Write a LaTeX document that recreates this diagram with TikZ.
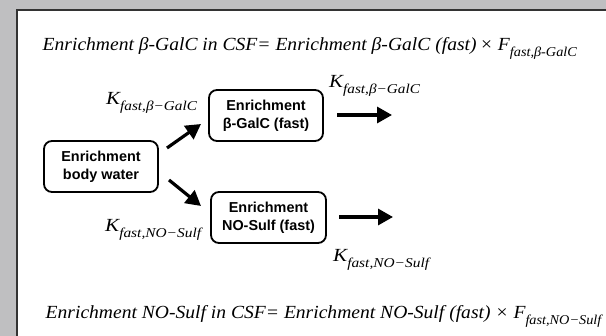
\documentclass[tikz,border=0pt]{standalone}
\usepackage{fontspec}
\setmainfont{Liberation Serif}
\newfontfamily\boxfont{Liberation Sans}
\usetikzlibrary{arrows.meta}
\definecolor{bggray}{RGB}{191,191,193}
\newcommand\sbs[1]{\raisebox{-0.3em}{\fontsize{13.5}{14}\selectfont #1}}
\newcommand\wide[2]{\scalebox{#1}[1]{#2}}
\begin{document}
\begin{tikzpicture}[x=1pt,y=-1pt,
 box/.style={draw, line width=1.8pt, rounded corners=8pt, minimum width=114pt, minimum height=51pt, align=center, font=\boxfont\bfseries\fontsize{14.4}{18}\selectfont, inner sep=0pt},
 flow/.style={line width=3.2pt, -{Triangle[length=15pt,width=16pt]}},
 lab/.style={font=\itshape\fontsize{18.5}{20}\selectfont, inner sep=0pt, anchor=base west},
 eqn/.style={font=\itshape\fontsize{18.5}{20}\selectfont, inner sep=0pt, anchor=base west}]
\useasboundingbox (0,0) rectangle (606,336);
\fill[bggray] (0,0) rectangle (606,336);
\fill[white] (17,10) rectangle (606,336);
\draw[line width=1.5pt, black!80] (17,336) -- (17,10) -- (606,10);

\node[box] (b1) at (101,166.5) {Enrichment\\body water};
\node[box] (b2) at (266,115.5) {Enrichment\\β-GalC (fast)};
\node[box, minimum width=115pt] (b3) at (268.5,217.5) {Enrichment\\NO-Sulf (fast)};

\coordinate (u0) at (167,148); \coordinate (u1) at (201,124);
\coordinate (d0) at (169,180); \coordinate (d1) at (201,206);
\coordinate (r1) at (392,115); \coordinate (r2) at (393,217);
\coordinate (r1s) at (337,115); \coordinate (r2s) at (339,217);
\draw[flow] (u0) -- (u1);
\draw[flow] (d0) -- (d1);
\draw[flow] (r1s) -- (r1);
\draw[flow] (r2s) -- (r2);

\node[lab] (k1) at (106,105) {\wide{1.13}{K\sbs{fast,β−GalC}}};
\node[lab] (k2) at (329,88) {\wide{1.13}{K\sbs{fast,β−GalC}}};
\node[lab] (k3) at (105,232) {\wide{1.14}{K\sbs{fast,NO−Sulf}}};
\node[lab] (k4) at (333,262) {\wide{1.14}{K\sbs{fast,NO−Sulf}}};

\node[eqn] (e1) at (42.5,51) {\wide{1.058}{Enrichment β-GalC in CSF= Enrichment β-GalC (fast)\,× F\sbs{fast,β-GalC}}};
\node[eqn] (e2) at (45.5,319) {\wide{1.058}{Enrichment NO-Sulf in CSF= Enrichment NO-Sulf (fast) × F\sbs{fast,NO−Sulf}}};
\end{tikzpicture}
\end{document}
